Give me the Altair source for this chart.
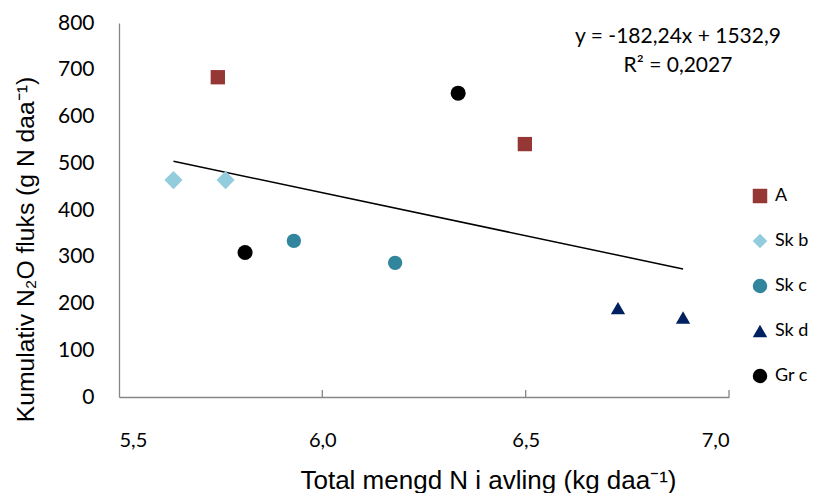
import altair as alt
import pandas as pd

groups = ["A", "A", "Sk b", "Sk b", "Sk c", "Sk c", "Sk d", "Sk d", "Gr c", "Gr c"]
x_vals = [5.743, 6.498, 5.634, 5.762, 5.930, 6.179, 6.727, 6.887, 5.810, 6.334]
y_vals = [684, 541, 464, 464, 334, 287, 190, 170, 309, 650]

legend_order = ["A", "Sk b", "Sk c", "Sk d", "Gr c"]
colors = ["#953735", "#93CDDD", "#31859C", "#002060", "#000000"]
shapes = ["square", "diamond", "circle", "triangle-up", "circle"]

x_ticks = [5.5, 6.0, 6.5, 7.0]
inner_ticks = [6.0, 6.5, 7.0]
y_ticks = [0, 100, 200, 300, 400, 500, 600, 700, 800]
eq_lines = ["y = -182,24x + 1532,9", "R\u00b2 = 0,2027"]

df = pd.DataFrame({"group": groups, "x": x_vals, "y": y_vals})

AXIS_GREY = "#868686"
xs = alt.Scale(domain=[5.5, 7.0], nice=False, zero=False)
ys = alt.Scale(domain=[0, 800], nice=False, zero=True)

legend = alt.Legend(
    title=None, orient="none", legendX=632, legendY=164,
    labelFont="Lato", labelFontSize=18, labelColor="#000000",
    rowPadding=27, labelOffset=6, padding=0, labelLimit=200,
    symbolStrokeWidth=0, symbolSize=210,
)

points = alt.Chart(df).transform_calculate(
    msize="datum.group == 'Sk b' ? 330 : (datum.group == 'Gr c' ? 225 : 205)"
).mark_point(filled=True, opacity=1, strokeWidth=0).encode(
    x=alt.X("x:Q", scale=xs, axis=alt.Axis(
        values=x_ticks,
        labelExpr="replace(format(datum.value, '.1f'), '.', ',')",
        ticks=False, grid=False, labelPadding=33,
        labelFont="Lato", labelFontSize=20, labelColor="#000000",
        domainColor=AXIS_GREY, domainWidth=1.3,
        title="Total mengd N i avling (kg daa\u207b\u00b9)",
        titleFont="Liberation Sans", titleFontSize=26, titleFontWeight="normal",
        titleColor="#000000", titleX=369, titleY=91, titleAlign="center",
        titleBaseline="alphabetic",
    )),
    y=alt.Y("y:Q", scale=ys, axis=alt.Axis(
        values=y_ticks, ticks=False, grid=False, labelPadding=25,
        labelFont="Lato", labelFontSize=21, labelColor="#000000",
        domainColor=AXIS_GREY, domainWidth=1.3,
        title="Kumulativ N\u2082O fluks  (g N daa\u207b\u00b9)",
        titleFont="Liberation Sans", titleFontSize=24.7, titleFontWeight="normal",
        titleColor="#000000", titleX=-93, titleY=226, titleAngle=270,
        titleAlign="center", titleBaseline="middle",
    )),
    color=alt.Color("group:N", scale=alt.Scale(domain=legend_order, range=colors), legend=legend),
    shape=alt.Shape("group:N", scale=alt.Scale(domain=legend_order, range=shapes), legend=legend),
    size=alt.Size("msize:Q", scale=None, legend=None),
)

trend = alt.Chart(df).transform_regression("x", "y").mark_line(
    color="#000000", strokeWidth=1.5
).encode(x=alt.X("x:Q", scale=xs), y=alt.Y("y:Q", scale=ys))

tick_df = pd.DataFrame({"t": inner_ticks})
ticks = alt.Chart(tick_df).mark_rule(color=AXIS_GREY, strokeWidth=1.3).encode(
    x=alt.X("t:Q", scale=xs), y=alt.value(374), y2=alt.value(367)
)

eq1 = alt.Chart(pd.DataFrame({"t": [eq_lines[0]]})).mark_text(
    font="Lato", fontSize=21, color="#000000", align="center", baseline="middle"
).encode(text="t:N", x=alt.value(559), y=alt.value(14))
eq2 = alt.Chart(pd.DataFrame({"t": [eq_lines[1]]})).mark_text(
    font="Lato", fontSize=21, color="#000000", align="center", baseline="middle"
).encode(text="t:N", x=alt.value(559), y=alt.value(43))

chart = alt.layer(trend, ticks, points, eq1, eq2).properties(
    width=610, height=374,
    autosize=alt.AutoSizeParams(type="none"),
    padding={"left": 111, "top": 15, "right": 81, "bottom": 96},
).configure_view(stroke=None)

chart.save("out.html", embed_options={"renderer": "svg", "actions": False})
